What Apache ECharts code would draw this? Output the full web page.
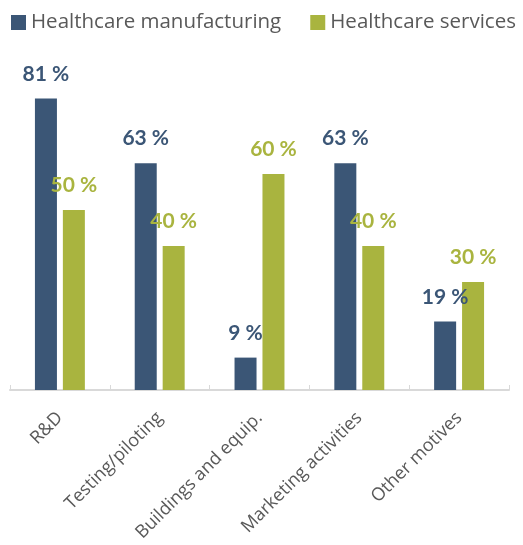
<!DOCTYPE html>
<html>
<head>
<meta charset="utf-8">
<script src="https://cdn.jsdelivr.net/npm/echarts@6/dist/echarts.min.js"></script>
<style>
  html, body { margin: 0; padding: 0; background: #ffffff; }
  #chart { width: 523px; height: 545px; }
</style>
</head>
<body>
<div id="chart"></div>
<script>
// Motives, share of firms (%)
const categories = ['R&D', 'Testing/piloting', 'Buildings and equip.', 'Marketing activities', 'Other motives'];
const manufacturing = [81, 63, 9, 63, 19];
const services = [50, 40, 60, 40, 30];
const seriesNames = ['Healthcare manufacturing', 'Healthcare services'];

const BLUE = '#3B5676';
const GREEN = '#A9B43F';
const TEXT = '#595959';
const FONT = '"Open Sans", sans-serif';

const chart = echarts.init(document.getElementById('chart'));

function barSeries(name, data, color) {
  return {
    name: name,
    type: 'bar',
    data: data,
    barWidth: 22,
    barGap: '27%',
    itemStyle: { color: color },
    label: {
      show: true,
      position: 'top',
      distance: 14,
      formatter: '{c} %',
      color: color,
      fontFamily: 'Lato, sans-serif',
      fontWeight: 'bold',
      fontSize: 21
    }
  };
}

chart.setOption({
  animation: false,
  backgroundColor: '#ffffff',
  legend: {
    top: 12,
    left: 11,
    width: 520,
    padding: 0,
    itemWidth: 15,
    itemHeight: 15,
    itemGap: 29,
    icon: 'rect',
    textStyle: { color: TEXT, fontSize: 20.5, fontFamily: FONT },
    data: seriesNames
  },
  grid: { left: 10, right: 14, top: 30, bottom: 155, containLabel: false },
  xAxis: {
    type: 'category',
    data: categories,
    axisLine: { lineStyle: { color: '#D9D9D9', width: 2 } },
    axisTick: { show: true, inside: true, length: 5, lineStyle: { color: '#D9D9D9', width: 1 } },
    axisLabel: {
      rotate: 45,
      margin: 25,
      color: TEXT,
      fontSize: 18,
      fontFamily: FONT,
      interval: 0
    }
  },
  yAxis: {
    type: 'value',
    min: 0,
    max: 100,
    show: false,
    splitLine: { show: false }
  },
  series: [
    barSeries(seriesNames[0], manufacturing, BLUE),
    barSeries(seriesNames[1], services, GREEN)
  ]
});
</script>
</body>
</html>
